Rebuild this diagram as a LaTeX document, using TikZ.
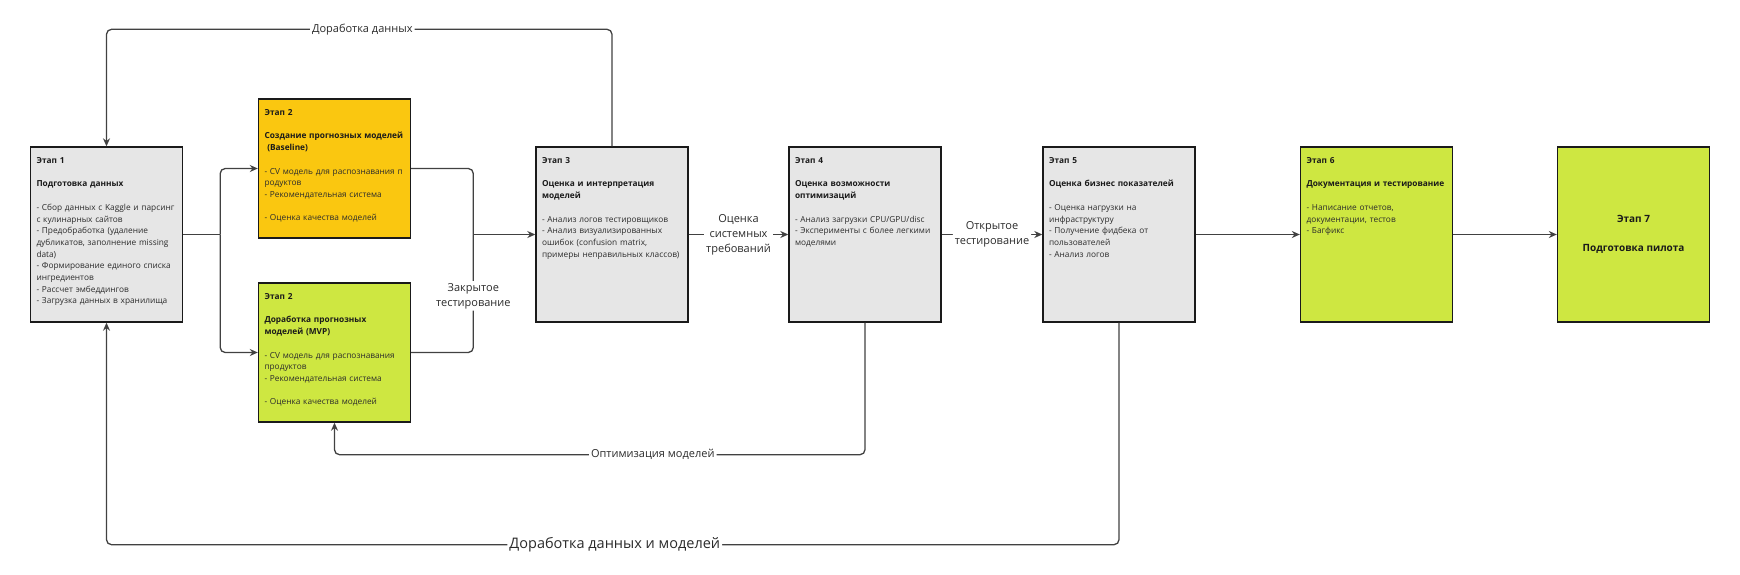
\documentclass[tikz,border=0pt]{standalone}
\usepackage{fontspec}
\setmainfont{Open Sans}
\usetikzlibrary{arrows.meta,calc}
\definecolor{greybox}{HTML}{E6E6E6}
\definecolor{yellowbox}{HTML}{FAC710}
\definecolor{greenbox}{HTML}{CEE741}
\definecolor{edge}{HTML}{1A1A1A}
\definecolor{wire}{HTML}{414141}
\definecolor{ink}{HTML}{2B2B2B}
\newcommand{\blankrow}{\\[11.7pt]}
\newcommand{\hd}[1]{\textbf{\color{edge}#1}}
\begin{document}
\begin{tikzpicture}[x=1pt, y=-1pt,
  stage/.style={draw=edge, line width=1.4pt, inner sep=0pt, minimum width=152pt, minimum height=175pt},
  half/.style={stage, minimum height=139pt},
  txt/.style={anchor=north west, inner xsep=6.5pt, inner ysep=11pt, text width=146pt, align=left, text=ink, font=\fontsize{8.3}{11.7}\selectfont},
  wire/.style={draw=wire, line width=1.3pt, rounded corners=5pt},
  flow/.style={wire, -{Stealth[length=8pt,width=7pt]}},
  lbl/.style={fill=white, text=ink, inner sep=2pt, align=center, font=\fontsize{11}{15}\selectfont}]
\useasboundingbox (0,0) rectangle (1740,574);
% stages
\node[stage, fill=greybox] (s1) at (106.5,234.5) {};
\node[half, fill=yellowbox] (s2a) at (334.5,168.5) {};
\node[half, fill=greenbox] (s2b) at (334.5,352.5) {};
\foreach \n/\x/\c in {s3/612/greybox, s4/865/greybox, s5/1119/greybox, s6/1376.5/greenbox}
  \node[stage, fill=\c] (\n) at (\x,234.5) {};
\node[stage, fill=greenbox, align=center, font=\bfseries\fontsize{10}{14.6}\selectfont, text=edge] (s7) at (1633.5,234.5) {Этап 7\\[14.6pt]Подготовка пилота};
% texts
\node[txt] (t1) at (s1.north west) {\hd{Этап 1}\blankrow\hd{Подготовка данных}\blankrow
- Сбор данных с Kaggle и парсинг\\с кулинарных сайтов\\- Предобработка (удаление\\дубликатов, заполнение missing\\data)\\- Формирование единого списка\\ингредиентов\\- Рассчет эмбеддингов\\- Загрузка данных в хранилища};
\node[txt] (t2a) at (s2a.north west) {\hd{Этап 2}\blankrow\hd{Создание прогнозных моделей}\\\hd{\ (Baseline)}\blankrow
- CV модель для распознавания п\\родуктов\\- Рекомендательная система\blankrow- Оценка качества моделей};
\node[txt] (t2b) at (s2b.north west) {\hd{Этап 2}\blankrow\hd{Доработка прогнозных}\\\hd{моделей (MVP)}\blankrow
- CV модель для распознавания\\продуктов\\- Рекомендательная система\blankrow- Оценка качества моделей};
\node[txt] (t3) at (s3.north west) {\hd{Этап 3}\blankrow\hd{Оценка и интерпретация}\\\hd{моделей}\blankrow
- Анализ логов тестировщиков\\- Анализ визуализированных\\ошибок (confusion matrix,\\примеры неправильных классов)};
\node[txt] (t4) at (s4.north west) {\hd{Этап 4}\blankrow\hd{Оценка возможности}\\\hd{оптимизаций}\blankrow
- Анализ загрузки CPU/GPU/disc\\- Эксперименты с более легкими\\моделями};
\node[txt] (t5) at (s5.north west) {\hd{Этап 5}\blankrow\hd{Оценка бизнес показателей}\blankrow
- Оценка нагрузки на\\инфраструктуру\\- Получение фидбека от\\пользователей\\- Анализ логов};
\node[txt] (t6) at (s6.north west) {\hd{Этап 6}\blankrow\hd{Документация и тестирование}\blankrow
- Написание отчетов,\\документации, тестов\\- Багфикс};
% connectors
\coordinate (split) at ($(s1.east)+(37,0)$);
\coordinate (merge) at ($(s3.west)+(-62,0)$);
\draw[wire] (s1.east) -- (split);
\draw[flow] (split) |- (s2a.west);
\draw[flow] (split) |- (s2b.west);
\draw[wire] (s2a.east) -| (merge);
\draw[wire] (s2b.east) -| node[lbl, pos=.74] {Закрытое\\тестирование} (merge);
\draw[flow] (merge) -- (s3.west);
\draw[flow] (s3.east) -- node[lbl] {Оценка\\системных\\требований} (s4.west);
\draw[flow] (s4.east) -- node[lbl] {Открытое\\тестирование} (s5.west);
\draw[flow] (s5) -- (s6);
\draw[flow] (s6) -- (s7);
% loops back
\draw[flow] (s3.north) -- ++(0,-117) -| node[lbl, pos=.247] {Доработка данных} (s1.north);
\draw[flow] (s4.south) -- ++(0,132) -| node[lbl, pos=.2] {Оптимизация моделей} (s2b.south);
\draw[flow] (s5.south) -- ++(0,222) -| node[lbl, pos=.249, font=\fontsize{14.5}{17}\selectfont] {Доработка данных и моделей} (s1.south);
\end{tikzpicture}
\end{document}
